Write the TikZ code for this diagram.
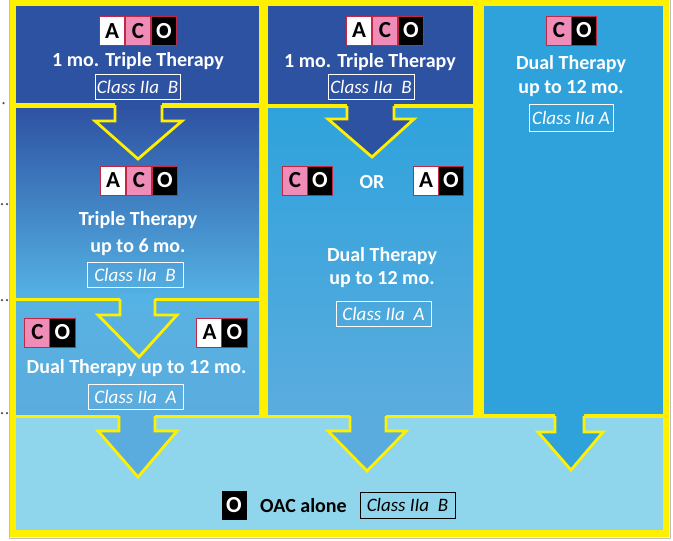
\documentclass[tikz,border=0pt]{standalone}
\usepackage{fontspec}
\setmainfont{Carlito}
\begin{document}
\begin{tikzpicture}[x=1pt,y=-1pt]
\definecolor{ylw}{RGB}{255,240,0}
\definecolor{dkblue}{RGB}{46,82,162}
\definecolor{midblue}{RGB}{47,162,220}
\definecolor{pinkc}{RGB}{240,140,184}
\definecolor{botblue}{RGB}{143,214,236}
\definecolor{lblueA}{RGB}{88,178,226}
\definecolor{lblueB}{RGB}{90,172,222}
\definecolor{gapblue}{RGB}{84,178,228}
\definecolor{frameb}{RGB}{192,40,70}
\tikzset{
  txt/.style={text=white, font=\fontsize{20}{22}\selectfont\bfseries, inner sep=0pt},
  cls/.style={draw=white, line width=1pt, text=white, inner sep=0pt, minimum height=25pt,
     font=\fontsize{19}{21}\selectfont\itshape},
  letter/.style={draw=frameb, line width=0.7pt, minimum width=25.5pt, minimum height=29pt, inner sep=0pt,
     font=\fontsize{23}{25}\selectfont\bfseries},
  boxA/.style={letter, fill=white, text=black},
  boxC/.style={letter, fill=pinkc, text=black},
  boxO/.style={letter, fill=black, text=white},
  arrline/.style={draw=ylw, line width=2.8pt, line join=miter},
  dot/.style={fill=black!70, circle, inner sep=0pt, minimum size=2.5pt}
}
\useasboundingbox (0,0) rectangle (673,541);
% frame
\draw[black!25, line width=1pt] (9.5,-1) rectangle (670,538.5);
\fill[ylw] (10,0) rectangle (669,537);
% panels
\fill[dkblue] (16,6) rectangle (259,103);
\shade[top color=dkblue, middle color={rgb,255:red,46;green,122;blue,196}, bottom color={rgb,255:red,84;green,178;blue,228}] (16,108) rectangle (259,297);
\shade[top color=lblueA, middle color={rgb,255:red,104;green,190;blue,232}, bottom color=lblueB] (16,301) rectangle (259,414);
\fill[dkblue] (268,6) rectangle (473,104);
\shade[top color=midblue, bottom color=lblueB] (268,108) rectangle (473,414);
\fill[midblue] (484,6) rectangle (663,414);
\fill[botblue] (16,418) rectangle (663,530);
% dots on the left
\node[dot] (d1) at (3.5,103) {};
\node[dot] (d2a) at (2,204) {}; \node[dot] (d2b) at (7,204) {};
\node[dot] (d3a) at (2,300) {}; \node[dot] (d3b) at (7,300) {};
\node[dot] (d4a) at (2,413) {}; \node[dot] (d4b) at (7,413) {};
% arrows in columns
\fill[dkblue] (115,100) rectangle (162,110);
\draw[arrline] (115,105)--(115,121)--(95,121)--(138,159)--(182,121)--(162,121)--(162,105);
\fill[dkblue] (347,100)--(347,119)--(328,119)--(372,157)--(414,119)--(394,119)--(394,100)--cycle;
\draw[arrline] (347,106)--(347,119)--(328,119)--(372,157)--(414,119)--(394,119)--(394,106);
\fill[gapblue] (120,294) rectangle (155,305);
\draw[arrline] (120,299)--(120,315)--(98,315)--(139,357)--(177,315)--(155,315)--(155,299);
% bottom arrows
\fill[lblueB] (119,410)--(119,431)--(98,431)--(138,477)--(177,431)--(155,431)--(155,410)--cycle;
\draw[arrline] (119,416)--(119,431)--(98,431)--(138,477)--(177,431)--(155,431)--(155,416);
\fill[lblueB] (350,410)--(350,431)--(328,431)--(367,471)--(406,431)--(386,431)--(386,410)--cycle;
\draw[arrline] (350,416)--(350,431)--(328,431)--(367,471)--(406,431)--(386,431)--(386,416);
\fill[midblue] (555,410)--(555,432)--(538,432)--(571,470)--(603,432)--(584,432)--(584,410)--cycle;
\draw[arrline] (555,416)--(555,432)--(538,432)--(571,470)--(603,432)--(584,432)--(584,416);
% left column top
\node[boxA] (l1a) at (112,31) {A};
\node[boxC] (l1c) at (138,31) {C};
\node[boxO] (l1o) at (164,31) {O};
\node[txt] (l1t) at (138,61) {1 mo. Triple Therapy};
\node[cls, minimum width=85pt] (l1k) at (137.5,86.5) {Class IIa\ \ B};
% left column middle
\node[boxA] (l2a) at (113,180.5) {A};
\node[boxC] (l2c) at (139,180.5) {C};
\node[boxO] (l2o) at (165,180.5) {O};
\node[txt] (l2t) at (138,220) {Triple Therapy};
\node[txt] (l2u) at (138,247) {up to 6 mo.};
\node[cls, minimum width=96pt] (l2k) at (135,275) {Class IIa\ \ B};
% left column bottom
\node[boxC] (l3c) at (37.5,332.5) {C};
\node[boxO] (l3o) at (62.5,332.5) {O};
\node[boxA] (l3a) at (209.5,332.5) {A};
\node[boxO] (l3o2) at (234.5,332.5) {O};
\node[txt] (l3t) at (136.5,368) {Dual Therapy up to 12 mo.};
\node[cls, minimum width=95pt] (l3k) at (135.5,396.5) {Class IIa\ \ A};
% middle column top
\node[boxA] (m1a) at (359,30.5) {A};
\node[boxC] (m1c) at (385,30.5) {C};
\node[boxO] (m1o) at (411,30.5) {O};
\node[txt] (m1t) at (370,62) {1 mo. Triple Therapy};
\node[cls, minimum width=86pt] (m1k) at (371,86.5) {Class IIa\ \ B};
% middle column lower
\node[boxC] (m2c) at (295,180.5) {C};
\node[boxO] (m2o) at (320,180.5) {O};
\node[txt] (m2or) at (372,182) {OR};
\node[boxA] (m2a) at (426,180.5) {A};
\node[boxO] (m2o2) at (451,180.5) {O};
\node[txt] (m2t) at (382,256) {Dual Therapy};
\node[txt] (m2u) at (382,280) {up to 12 mo.};
\node[cls, minimum width=95pt] (m2k) at (383.5,313.5) {Class IIa\ \ A};
% right column
\node[boxC] (rc) at (559,30.5) {C};
\node[boxO] (ro) at (584,30.5) {O};
\node[txt] (rt) at (571,64) {Dual Therapy};
\node[txt] (ru) at (571,89) {up to 12 mo.};
\node[cls, minimum width=84pt, minimum height=27pt] (rk) at (571,117.5) {Class IIa A};
% bottom
\node[boxO, draw=black, minimum width=24pt, minimum height=28pt] (bo) at (234,505) {O};
\node[txt, text=black, anchor=west] (bt) at (260,506) {OAC alone};
\node[cls, draw=black, text=black, minimum width=95pt, minimum height=26pt] (bk) at (407.5,505) {Class IIa\ \ B};
\end{tikzpicture}
\end{document}
